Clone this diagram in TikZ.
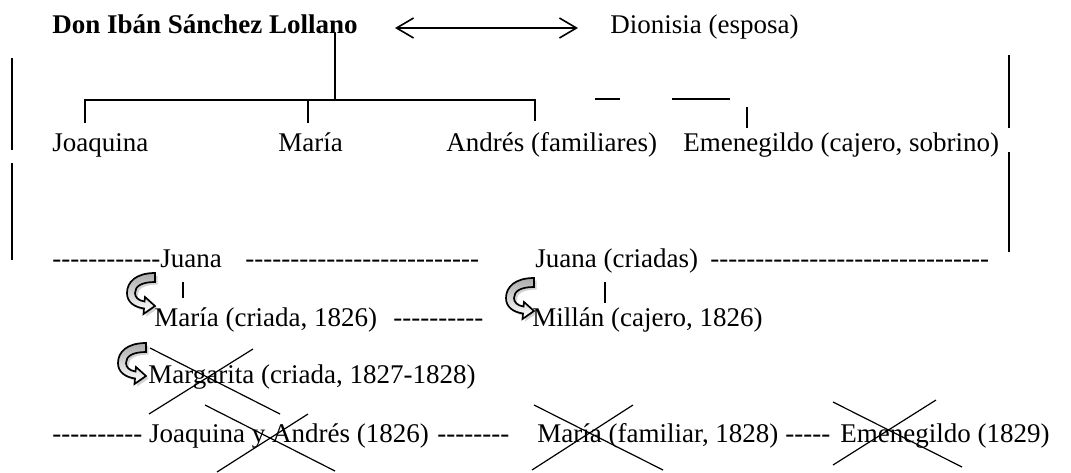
\documentclass[tikz,border=0pt]{standalone}
\usepackage{fontspec}
\setmainfont{Liberation Serif}[Ligatures=TeXOff]
\usetikzlibrary{arrows.meta,shadows}
\begin{document}
\begin{tikzpicture}[x=0.5pt,y=-0.5pt,
  txt/.style={anchor=base west, inner sep=0pt, font=\fontsize{13.5pt}{16pt}\selectfont},
  boldtxt/.style={txt, font=\fontsize{13.5pt}{16pt}\selectfont\bfseries},
  ln/.style={line width=0.75pt},
  xline/.style={line width=0.6pt},
  curvarr/.pic={
    \path[draw=black, line width=0.85pt, top color=gray!65, bottom color=white,
          drop shadow={opacity=0.35, shadow xshift=1.3pt, shadow yshift=-1.3pt}]
      (28,0) .. controls (9,0) and (0,9) .. (0,20)
      .. controls (0,29) and (7,34) .. (17,35.5)
      -- (16.5,41) -- (28,33) -- (18,24) -- (17.5,28.5)
      .. controls (11,27.5) and (8,24) .. (8,20)
      .. controls (8,13) and (15,9) .. (28,9) -- cycle;
  }]
\useasboundingbox (0,0) rectangle (1071,472);

% Row 1
\node[boldtxt] (don) at (52,33) {Don Ibán Sánchez Lollano};
\node[txt] (dio) at (610,33) {Dionisia (esposa)};
\coordinate (aL) at (395,28);
\coordinate (aR) at (578,28);
\draw[ln,{Straight Barb[length=8.5pt,width=10pt,line width=0.8pt]}-{Straight Barb[length=8.5pt,width=10pt,line width=0.8pt]}] (aL) -- (aR);

% Tree
\coordinate (t0) at (335,33);
\coordinate (t1) at (335,100);
\coordinate (hL) at (85,100);
\coordinate (hM) at (308,100);
\coordinate (hR) at (535,100);
\coordinate (kL) at (85,123);
\coordinate (kM) at (308,123);
\coordinate (kR) at (535,121);
\draw[ln] (t0) -- (t1);
\draw[ln] (kL) -- (hL) -- (hR) -- (kR);
\draw[ln] (hM) -- (kM);

% small dashes and tick near Emenegildo
\coordinate (s1a) at (595,99); \coordinate (s1b) at (620,99);
\coordinate (s2a) at (672,99); \coordinate (s2b) at (730,99);
\coordinate (s3a) at (747,107); \coordinate (s3b) at (747,128);
\draw[ln] (s1a) -- (s1b);
\draw[ln] (s2a) -- (s2b);
\draw[ln] (s3a) -- (s3b);

% side verticals
\coordinate (l1a) at (12,58); \coordinate (l1b) at (12,150);
\coordinate (l2a) at (12,163); \coordinate (l2b) at (12,260);
\coordinate (r1a) at (1009,55); \coordinate (r1b) at (1009,128);
\coordinate (r2a) at (1009,152); \coordinate (r2b) at (1009,252);
\draw[ln] (l1a) -- (l1b);
\draw[ln] (l2a) -- (l2b);
\draw[ln] (r1a) -- (r1b);
\draw[ln] (r2a) -- (r2b);

% Row 2
\node[txt] (joa) at (52,151) {Joaquina};
\node[txt] (mar) at (278,151) {María};
\node[txt] (and) at (446,151) {Andrés (familiares)};
\node[txt] (eme) at (683,151) {Emenegildo (cajero, sobrino)};

% Row 3
\node[txt] (jua1) at (52,267) {------------Juana};
\node[txt] (d1) at (245,267) {--------------------------};
\node[txt] (jua2) at (535,267) {Juana (criadas)};
\node[txt] (d2) at (710,267) {-------------------------------};
\coordinate (v1a) at (183,282); \coordinate (v1b) at (183,298);
\coordinate (v2a) at (605,282); \coordinate (v2b) at (605,303);
\draw[ln] (v1a) -- (v1b);
\draw[ln] (v2a) -- (v2b);

% Row 4
\node[txt] (mcri) at (154,326) {María (criada, 1826)};
\node[txt] (d3) at (393,326) {----------};
\node[txt] (mil) at (532,326) {Millán (cajero, 1826)};

% Row 5
\node[txt] (marg) at (148,383) {Margarita (criada, 1827-1828)};

% Row 6
\node[txt] (r6a) at (52,442) {---------- Joaquina y Andrés (1826)};
\node[txt] (r6b) at (437,442) {--------};
\node[txt] (r6c) at (537,442) {María (familiar, 1828)};
\node[txt] (r6d) at (785,442) {-----};
\node[txt] (r6e) at (840,442) {Emenegildo (1829)};

% curved arrows
\pic at (127,273) {curvarr};
\pic at (506,278) {curvarr};
\pic at (118,343) {curvarr};

% crosses
\draw[xline] (150,348) -- (280,414);
\draw[xline] (253,349) -- (149,414);
\draw[xline] (205,405) -- (335,471);
\draw[xline] (308,414) -- (217,472);
\draw[xline] (534,405) -- (663,470);
\draw[xline] (633,405) -- (532,470);
\draw[xline] (833,402) -- (962,467);
\draw[xline] (936,400) -- (833,465);
\end{tikzpicture}
\end{document}
